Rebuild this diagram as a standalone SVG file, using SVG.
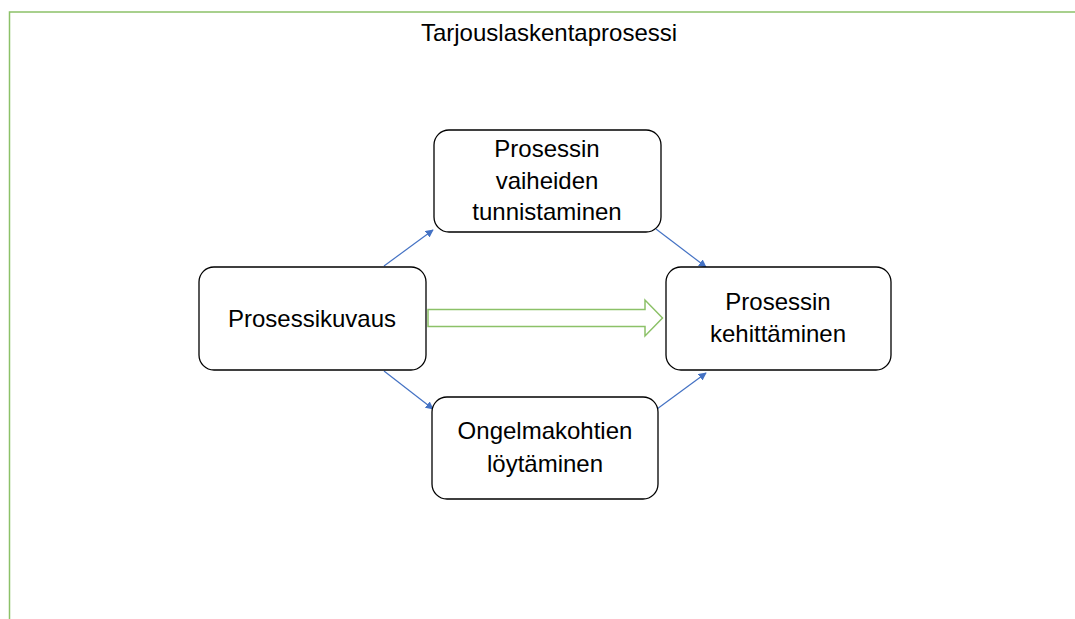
<svg xmlns="http://www.w3.org/2000/svg" width="1075" height="619" viewBox="0 0 1075 619">
<defs>
<style>
.box{fill:#fff;stroke:#000;stroke-width:1.3}
.t{font-family:"Liberation Sans",Arial,sans-serif;font-size:24px;fill:#000;text-anchor:middle}
.c{stroke:#4472c4;stroke-width:1.2;fill:none;marker-end:url(#ah)}
</style>
<marker id="ah" viewBox="0 0 10 10" refX="9" refY="5" markerWidth="8" markerHeight="8" markerUnits="userSpaceOnUse" orient="auto">
<path d="M0,0 L10,5 L0,10 z" fill="#4472c4"/>
</marker>
</defs>
<rect width="1075" height="619" fill="#fff"/>
<g id="frame">
<path d="M9.5,619 V12 H1075" fill="none" stroke="#8cc168" stroke-width="1.5"/>
<text class="t" x="549" y="41">Tarjouslaskentaprosessi</text>
</g>
<g id="connectors">
<line class="c" x1="384" y1="266" x2="433" y2="230"/>
<line class="c" x1="656" y1="229" x2="706" y2="267"/>
<line class="c" x1="384" y1="371" x2="433" y2="409"/>
<line class="c" x1="657" y1="409" x2="706" y2="373"/>
<path d="M428,309.5 H645 V300 L662.5,318 L645,336 V326.5 H428 Z" fill="#fff" stroke="#8cc168" stroke-width="1.5"/>
</g>
<g id="n1">
<rect class="box" x="199" y="267" width="227" height="103" rx="15"/>
<text class="t" x="312" y="327">Prosessikuvaus</text>
</g>
<g id="n2">
<rect class="box" x="434" y="130" width="227" height="102" rx="15"/>
<text class="t" x="547" y="157">Prosessin</text>
<text class="t" x="547" y="188.5">vaiheiden</text>
<text class="t" x="547" y="220">tunnistaminen</text>
</g>
<g id="n3">
<rect class="box" x="432" y="397" width="226" height="102" rx="15"/>
<text class="t" x="545" y="439">Ongelmakohtien</text>
<text class="t" x="545" y="472">löytäminen</text>
</g>
<g id="n4">
<rect class="box" x="666" y="267" width="225" height="103" rx="15"/>
<text class="t" x="778" y="310">Prosessin</text>
<text class="t" x="778" y="342">kehittäminen</text>
</g>
</svg>
